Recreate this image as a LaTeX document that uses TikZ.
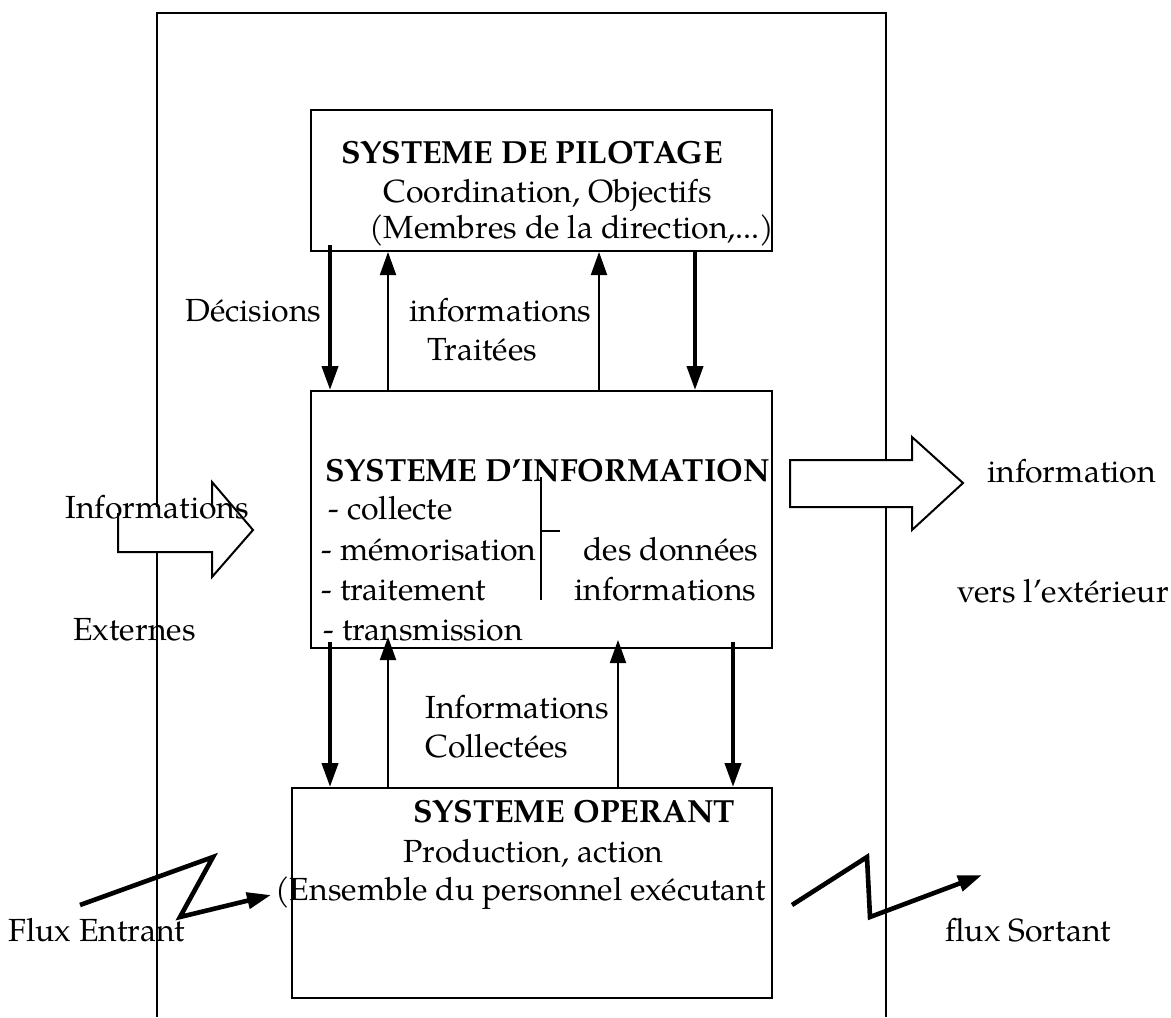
\documentclass[tikz,border=0pt]{standalone}
\usepackage{fontspec}
\setmainfont{texgyrepagella}[Extension=.otf,UprightFont=*-regular,BoldFont=*-bold,ItalicFont=*-italic,BoldItalicFont=*-bolditalic]
\usetikzlibrary{arrows.meta}
\begin{document}
\begin{tikzpicture}[x=0.5pt,y=-0.5pt,
  font=\fontsize{16}{19}\selectfont,
  box/.style={draw,line width=1pt,fill=white,inner sep=0pt},
  txt/.style={anchor=base west,inner sep=0pt},
  bld/.style={txt,font=\fontsize{16}{19}\selectfont\bfseries},
  thn/.style={line width=1pt,-{Triangle[length=11.5pt,width=8pt]}},
  thk/.style={line width=2pt,-{Triangle[length=12pt,width=8pt]}},
  zig/.style={line width=2.3pt,line join=miter,-{Triangle[length=12pt,width=8pt]}},
  blk/.style={fill=white,draw,line width=1pt,line join=miter}]
\useasboundingbox (0,0) rectangle (1171,1017);
% outer frame
\coordinate (fbl) at (157,1017);
\coordinate (ftl) at (157,13);
\coordinate (ftr) at (886,13);
\coordinate (fbr) at (886,1017);
\draw[line width=1pt] (fbl) -- (ftl) -- (ftr) -- (fbr);
% boxes
\node[box,minimum width=230.5pt,minimum height=70.5pt] (pil) at (541.5,180.5) {};
\node[box,minimum width=230.5pt,minimum height=128.5pt] (inf) at (541.5,519.5) {};
\node[box,minimum width=240pt,minimum height=105pt] (ope) at (532,893) {};
% block arrows
\coordinate (la1) at (118,507);
\coordinate (la2) at (212,507);
\coordinate (la3) at (212,482);
\coordinate (la4) at (253,530);
\coordinate (la5) at (212,577);
\coordinate (la6) at (212,552);
\coordinate (la7) at (118,552);
\fill[white] (la1) -- (la2) -- (la3) -- (la4) -- (la5) -- (la6) -- (la7) -- cycle;
\draw[line width=1pt,line join=miter] (la2) -- (la3) -- (la4) -- (la5) -- (la6) -- (la7) -- ([yshift=-3pt]la1);
\coordinate (ra1) at (790,460);
\coordinate (ra2) at (912,460);
\coordinate (ra3) at (912,437);
\coordinate (ra4) at (963,483);
\coordinate (ra5) at (912,530);
\coordinate (ra6) at (912,507);
\coordinate (ra7) at (790,507);
\draw[blk] (ra1) -- (ra2) -- (ra3) -- (ra4) -- (ra5) -- (ra6) -- (ra7) -- cycle;
% vertical arrows top <-> middle
\coordinate (x1) at (330,245);
\coordinate (x2) at (388,0);
\coordinate (x3) at (599,0);
\coordinate (x4) at (695,0);
\draw[thk] (x1) -- (inf.north -| x1);
\draw[thn] (inf.north -| x2) -- (pil.south -| x2);
\draw[thn] (inf.north -| x3) -- (pil.south -| x3);
\draw[thk] (pil.south -| x4) -- (inf.north -| x4);
% vertical arrows middle <-> bottom
\coordinate (y1) at (330,642);
\coordinate (y2t) at (388,637);
\coordinate (y3t) at (618,640);
\coordinate (y4) at (733,642);
\draw[thk] (y1) -- (ope.north -| y1);
\draw[thn] (ope.north -| y2t) -- (y2t);
\draw[thn] (ope.north -| y3t) -- (y3t);
\draw[thk] (y4) -- (ope.north -| y4);
% bracket
\coordinate (b1) at (541,477);
\coordinate (b2) at (541,600);
\coordinate (b3) at (541,531);
\coordinate (b4) at (560,531);
\draw[line width=1pt] (b1) -- (b2);
\draw[line width=1pt] (b3) -- (b4);
% zigzags
\coordinate (z1) at (80,905);
\coordinate (z2) at (213,857);
\coordinate (z3) at (180,917);
\coordinate (z4) at (271,895);
\draw[zig] (z1) -- (z2) -- (z3) -- (z4);
\coordinate (w1) at (792,905);
\coordinate (w2) at (867,857);
\coordinate (w3) at (870,917);
\coordinate (w4) at (982,875);
\draw[zig] (w1) -- (w2) -- (w3) -- (w4);
% texts
\node[bld] (pil1) at (341,163) {SYSTEME DE PILOTAGE};
\node[txt] (pil2) at (383,202) {Coordination, Objectifs};
\node[txt] (pil3) at (369,238) {(Membres de la direction,...)};
\node[txt] (dec) at (185,321) {Décisions};
\node[txt] (it1) at (409,321) {informations};
\node[txt] (it2) at (427,360) {Traitées};
\node[bld] (si1) at (325,481) {SYSTEME D’INFORMATION};
\node[txt] (si2) at (328,519) {- collecte};
\node[txt] (si3) at (321,560) {- mémorisation};
\node[txt] (si4) at (583,560) {des données};
\node[txt] (si5) at (321,600) {- traitement};
\node[txt] (si6) at (574,600) {informations};
\node[txt] (si7) at (323,640) {- transmission};
\node[txt] (infl) at (65,518) {Informations};
\node[txt] (ext) at (73,640) {Externes};
\node[txt] (infr) at (987,482) {information};
\node[txt] (vers) at (957,602) {vers l’extérieur};
\node[txt] (ic1) at (425,718) {Informations};
\node[txt] (ic2) at (425,757) {Collectées};
\node[bld] (so1) at (413,822) {SYSTEME OPERANT};
\node[txt] (so2) at (403,862) {Production, action};
\node[txt] (so3) at (275,900) {(Ensemble du personnel exécutant};
\node[txt] (fe) at (8,941) {Flux Entrant};
\node[txt] (fs) at (945,941) {flux Sortant};
\end{tikzpicture}
\end{document}
